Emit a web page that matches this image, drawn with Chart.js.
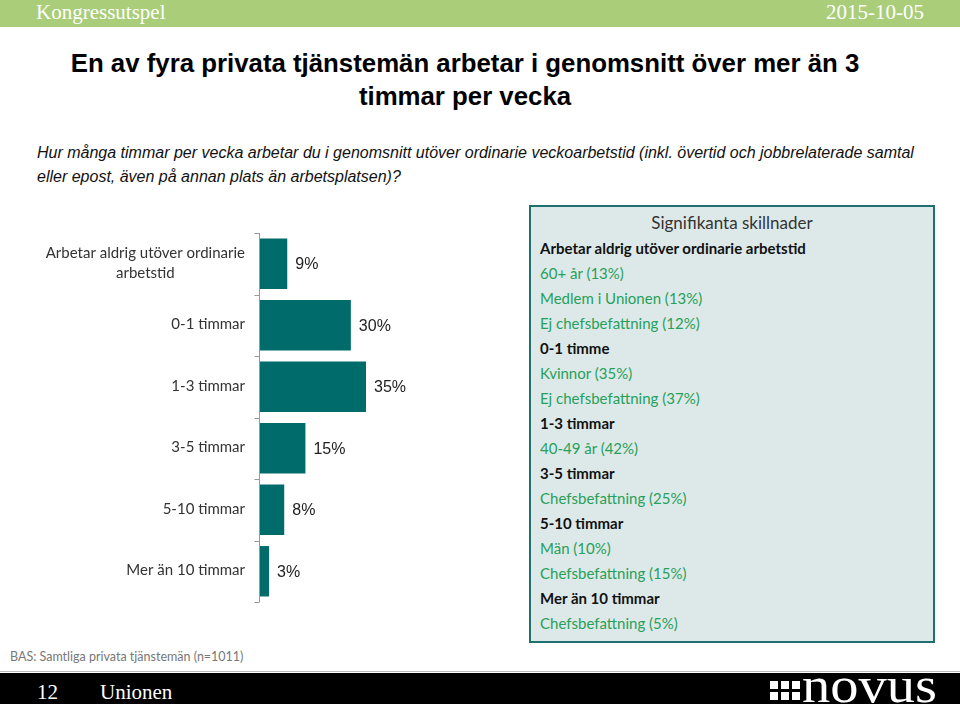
<!DOCTYPE html>
<html lang="sv">
<head>
<meta charset="utf-8">
<script src="https://cdn.jsdelivr.net/npm/chart.js@4.4.1/dist/chart.umd.min.js"></script>
<style>
  html, body { margin: 0; padding: 0; background: #fff; }
  body { width: 960px; height: 704px; position: relative; overflow: hidden; font-family: "Liberation Sans", Arial, sans-serif; }
  .topbar { position: absolute; left: 0; top: 0; width: 960px; height: 27px; background: #a9cd78; color: #fff;
    font-family: "Liberation Serif", serif; font-size: 21px; line-height: 25px; }
  .topbar .l { position: absolute; left: 36px; top: 0; }
  .topbar .r { position: absolute; right: 36px; top: 0; }
  h1 { position: absolute; left: 15px; top: 47px; width: 900px; margin: 0; text-align: center; font-size: 25.8px; line-height: 33px; font-weight: bold; color: #000; }
  .question { position: absolute; left: 37px; top: 141px; width: 900px; font-size: 16px; line-height: 24px; font-style: italic; color: #111; }
  #wrap { position: absolute; left: 0; top: 225px; width: 480px; height: 385px; }
  .panel { position: absolute; left: 529px; top: 205px; width: 402px; height: 434px; border: 2px solid #1f6f6f; background: #dde9e9;
    font-family: Lato, "Open Sans", sans-serif; }
  .panel .head { text-align: center; font-size: 17px; color: #333; margin-top: 5px; height: 25px; }
  .panel .row { position: absolute; left: 9px; font-size: 15px; }
  .panel .b { font-weight: bold; color: #111; }
  .panel .g { color: #27a05a; }
  .bas { position: absolute; left: 10px; top: 649px; font-family: Lato, sans-serif; font-size: 12.5px; color: #777; }
  .rule { position: absolute; left: 0; top: 671px; width: 960px; height: 1px; background: #bbb; }
  .footer { position: absolute; left: 0; top: 673px; width: 960px; height: 31px; background: #000; color: #fff;
    font-family: "Liberation Serif", serif; font-size: 21px; line-height: 38px; }
  .footer .n { position: absolute; left: 37px; }
  .footer .u { position: absolute; left: 100px; }
  .logo-sq { position: absolute; left: 770px; top: 8px; display: grid; grid-template-columns: repeat(3, 8px); grid-gap: 3px; }
  .logo-sq i { display: block; width: 8px; height: 8px; background: #fff; }
  .logo-txt { position: absolute; left: 802px; top: -13px; font-family: "Liberation Serif", serif; font-size: 50px; line-height: 50px;
    transform: scaleX(1.13); transform-origin: left; }
</style>
</head>
<body>
<div class="topbar"><span class="l">Kongressutspel</span><span class="r">2015-10-05</span></div>
<h1>En av fyra privata tjänstemän arbetar i genomsnitt över mer än 3<br>timmar per vecka</h1>
<div class="question">Hur många timmar per vecka arbetar du i genomsnitt utöver ordinarie veckoarbetstid (inkl. övertid och jobbrelaterade samtal eller epost, även på annan plats än arbetsplatsen)?</div>

<div id="wrap"><canvas id="chart"></canvas></div>

<div class="panel" id="panel"><div class="head">Signifikanta skillnader</div></div>

<div class="bas">BAS: Samtliga privata tjänstemän (n=1011)</div>
<div class="rule"></div>
<div class="footer">
  <span class="n">12</span><span class="u">Unionen</span>
  <div class="logo-sq"><i></i><i></i><i></i><i></i><i></i><i></i></div>
  <div class="logo-txt">novus</div>
</div>

<script>
const categories = [
  ['Arbetar aldrig utöver ordinarie', 'arbetstid'],
  ['0-1 timmar'],
  ['1-3 timmar'],
  ['3-5 timmar'],
  ['5-10 timmar'],
  ['Mer än 10 timmar'],
];
const shares = [9, 30, 35, 15, 8, 3];

const panelRows = [
  ['b', 'Arbetar aldrig utöver ordinarie arbetstid'],
  ['g', '60+ år (13%)'],
  ['g', 'Medlem i Unionen (13%)'],
  ['g', 'Ej chefsbefattning (12%)'],
  ['b', '0-1 timme'],
  ['g', 'Kvinnor (35%)'],
  ['g', 'Ej chefsbefattning (37%)'],
  ['b', '1-3 timmar'],
  ['g', '40-49 år (42%)'],
  ['b', '3-5 timmar'],
  ['g', 'Chefsbefattning (25%)'],
  ['b', '5-10 timmar'],
  ['g', 'Män (10%)'],
  ['g', 'Chefsbefattning (15%)'],
  ['b', 'Mer än 10 timmar'],
  ['g', 'Chefsbefattning (5%)'],
];

function buildPanel() {
  const panel = document.getElementById('panel');
  panelRows.forEach(([cls, text], i) => {
    const div = document.createElement('div');
    div.className = 'row ' + cls;
    div.style.top = (32 + i * 25) + 'px';
    div.textContent = text;
    panel.appendChild(div);
  });
}

// axis line with tick marks at category boundaries, then the category labels
const categoryAxis = {
  id: 'categoryAxis',
  afterDraw(chart) {
    const { ctx, scales: { y } } = chart;
    const x0 = Math.round(y.right) - 0.5;
    ctx.save();
    ctx.strokeStyle = '#999';
    ctx.lineWidth = 1;
    ctx.beginPath();
    ctx.moveTo(x0, y.top);
    ctx.lineTo(x0, y.bottom);
    for (let i = 0; i <= categories.length; i++) {
      const ty = Math.round(y.getPixelForValue(i - 0.5)) + 0.5;
      ctx.moveTo(x0 - 5, ty);
      ctx.lineTo(x0, ty);
    }
    ctx.stroke();

    ctx.font = '15px Lato, "Open Sans", sans-serif';
    ctx.fillStyle = '#333';
    ctx.textBaseline = 'middle';
    ctx.textAlign = 'center';
    const right = y.right - 15;
    categories.forEach((lines, i) => {
      const yc = y.getPixelForValue(i);
      const w = Math.max(...lines.map((l) => ctx.measureText(l).width));
      const cx = right - w / 2;
      lines.forEach((line, k) => {
        ctx.fillText(line, cx, yc + (k - (lines.length - 1) / 2) * 20 - 1);
      });
    });
    ctx.restore();
  },
};

const valueLabels = {
  id: 'valueLabels',
  afterDatasetsDraw(chart) {
    const { ctx } = chart;
    const meta = chart.getDatasetMeta(0);
    ctx.save();
    ctx.font = '16px "Liberation Sans", Arial, sans-serif';
    ctx.fillStyle = '#222';
    ctx.textBaseline = 'middle';
    ctx.textAlign = 'left';
    meta.data.forEach((bar, i) => {
      ctx.fillText(shares[i] + '%', bar.x + 8, bar.y + 1);
    });
    ctx.restore();
  },
};

function initChart() {
  const ctx = document.getElementById('chart');
  return new Chart(ctx, {
    type: 'bar',
    data: {
      labels: categories,
      datasets: [{
        data: shares,
        backgroundColor: '#006b6b',
        borderWidth: 0,
        categoryPercentage: 0.82,
        barPercentage: 1,
      }],
    },
    options: {
      indexAxis: 'y',
      responsive: true,
      maintainAspectRatio: false,
      animation: false,
      layout: { padding: { top: 8, bottom: 8, right: 8, left: 0 } },
      plugins: { legend: { display: false }, tooltip: { enabled: false } },
      scales: {
        x: { display: false, min: 0, max: 70 },
        y: {
          offset: true,
          ticks: { display: false },
          grid: { display: false },
          border: { display: false },
          afterFit(scale) { scale.width = 260; },
        },
      },
    },
    plugins: [categoryAxis, valueLabels],
  });
}

document.addEventListener('DOMContentLoaded', () => {
  buildPanel();
  initChart();
});
</script>
</body>
</html>
